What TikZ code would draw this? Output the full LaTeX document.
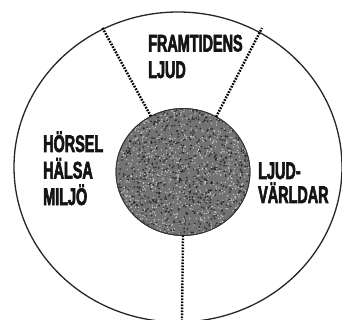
\documentclass[tikz,border=0pt]{standalone}
\usepackage{fontspec}
\newfontfamily\labfont[FakeStretch=0.6, BoldFeatures={FakeBold=2.4}]{Liberation Sans}
\usetikzlibrary{shapes.geometric}
\tikzset{
  ring/.style={ellipse, draw=black!85, line width=1.3pt, inner sep=0pt, outer sep=0pt},
  corebox/.style={ellipse, draw=black!80, line width=0.8pt, fill=black!55, inner sep=0pt, outer sep=0pt},
  divider/.style={draw=black, line width=2.4pt, dash pattern=on 1.7pt off 1.3pt},
  lab/.style={font=\labfont\bfseries\fontsize{24}{26.5}\selectfont, align=left, inner sep=0pt, anchor=base west, text=black!92}
}
\begin{document}
\begin{tikzpicture}[x=1pt,y=-1pt]
\useasboundingbox (0,0) rectangle (342,320);
\fill[white] (0,0) rectangle (342,320);
\node[ring, minimum width=328pt, minimum height=310pt] (outer) at (178,167) {};
\node[corebox, minimum width=134pt, minimum height=127pt] (core) at (183,172) {};
\begin{scope}
  \clip (183,172) ellipse [x radius=66.5pt, y radius=63pt];
  \pgfmathsetseed{7}
  \foreach \i in {1,...,900} {
    \fill[black!90, opacity=0.75] ({183+67*rand},{172+64*rand}) circle (1.0pt);
  }
  \foreach \i in {1,...,1000} {
    \fill[black!12, opacity=0.75] ({183+67*rand},{172+64*rand}) circle (0.75pt);
  }
\end{scope}
\draw[black!80, line width=0.8pt] (183,172) ellipse [x radius=67pt, y radius=63.5pt];
\coordinate (tl) at (102,27);
\coordinate (tr) at (262,28);
\coordinate (bt) at (182,320);
\draw[divider] (core.120) -- (tl);
\draw[divider] (core.59) -- (tr);
\draw[divider] (core.south) -- (bt);
\node[lab] (future) at (148,78) {FRAMTIDENS\\LJUD};
\node[lab] (health) at (43,205) {HÖRSEL\\HÄLSA\\MILJÖ};
\node[lab, font=\labfont\bfseries\fontsize{24}{24}\selectfont] (worlds) at (258,203) {LJUD-\\VÄRLDAR};
\end{tikzpicture}
\end{document}
